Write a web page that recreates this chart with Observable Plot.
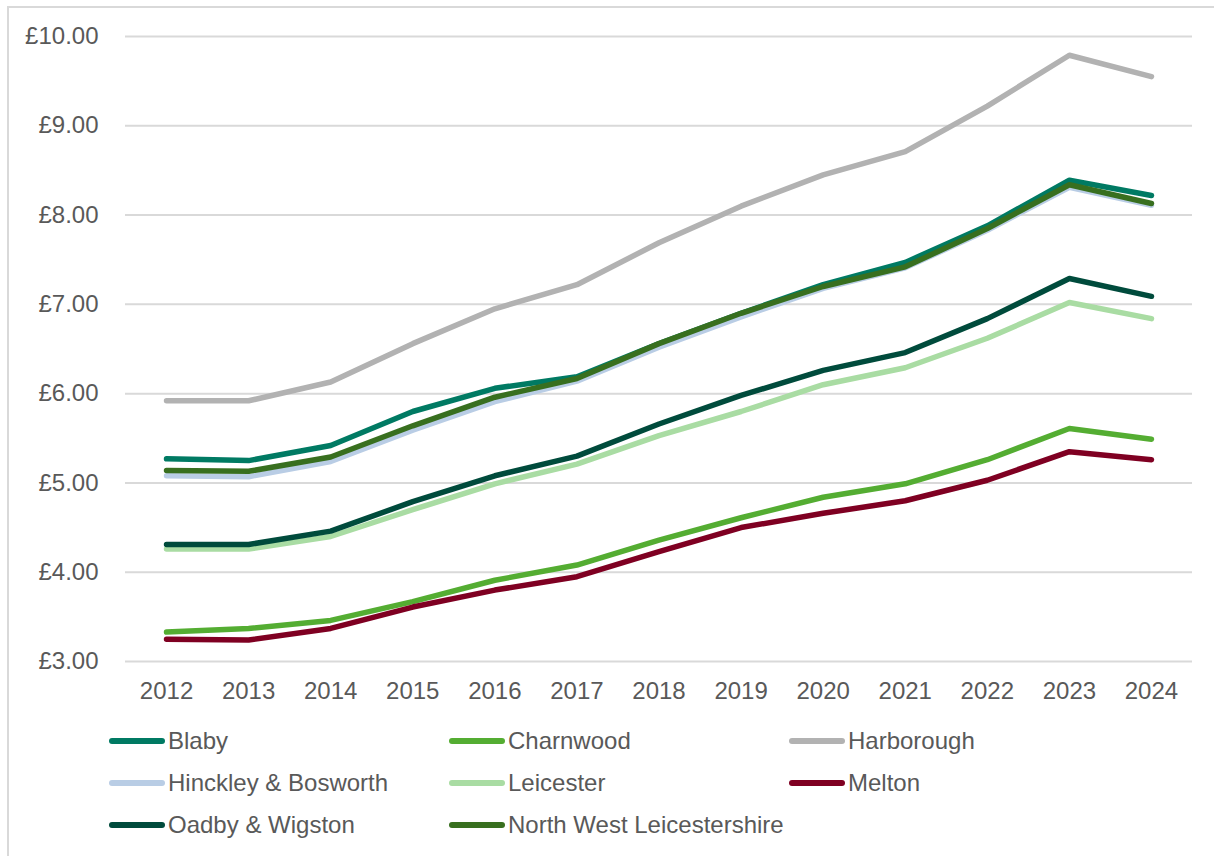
<!DOCTYPE html>
<html>
<head>
<meta charset="utf-8">
<script src="https://cdn.jsdelivr.net/npm/d3@7"></script>
<script src="https://cdn.jsdelivr.net/npm/@observablehq/plot@0.6"></script>
<style>
  html, body { margin: 0; padding: 0; background: #fff; }
  #wrap { position: relative; width: 1214px; height: 856px; overflow: hidden; font-family: "Liberation Sans", Arial, sans-serif; }
  #frame { position: absolute; left: 7px; top: 6px; width: 1300px; height: 900px; border-left: 2px solid #d9d9d9; border-top: 2px solid #d9d9d9; }
  #chart { position: absolute; left: 0; top: 0; }
  .leg { position: absolute; display: flex; align-items: center; font-size: 24px; color: #595959; white-space: nowrap; }
  .sw { width: 56px; height: 6px; border-radius: 3px; margin-right: 3px; }
</style>
</head>
<body>
<div id="wrap">
  <div id="frame"></div>
  <div id="chart"></div>
  <div id="legend"></div>
</div>
<script>
const years = [2012, 2013, 2014, 2015, 2016, 2017, 2018, 2019, 2020, 2021, 2022, 2023, 2024];
const seriesNames = ["Blaby", "Charnwood", "Harborough", "Hinckley & Bosworth", "Leicester", "Melton", "Oadby & Wigston", "North West Leicestershire"];
const seriesColors = ["#007a63", "#54ad32", "#b2b2b2", "#b9cde5", "#a9dca3", "#7f0022", "#004b3c", "#386f1f"];
const blaby      = [5.27, 5.25, 5.42, 5.80, 6.06, 6.19, 6.56, 6.90, 7.22, 7.47, 7.88, 8.39, 8.22];
const charnwood  = [3.33, 3.37, 3.46, 3.67, 3.91, 4.08, 4.36, 4.61, 4.84, 4.99, 5.26, 5.61, 5.49];
const harborough = [5.92, 5.92, 6.13, 6.56, 6.95, 7.22, 7.69, 8.10, 8.45, 8.71, 9.22, 9.79, 9.55];
const hinckley   = [5.08, 5.07, 5.24, 5.59, 5.91, 6.14, 6.52, 6.86, 7.18, 7.41, 7.83, 8.31, 8.11];
const leicester  = [4.26, 4.26, 4.40, 4.70, 4.99, 5.21, 5.53, 5.80, 6.10, 6.29, 6.62, 7.02, 6.84];
const melton     = [3.25, 3.24, 3.37, 3.61, 3.80, 3.95, 4.23, 4.50, 4.66, 4.80, 5.03, 5.35, 5.26];
const oadby      = [4.31, 4.31, 4.46, 4.79, 5.08, 5.30, 5.66, 5.98, 6.26, 6.46, 6.84, 7.29, 7.09];
const nwl        = [5.14, 5.13, 5.29, 5.64, 5.96, 6.17, 6.56, 6.90, 7.20, 7.42, 7.85, 8.34, 8.13];
const yTicks = [3, 4, 5, 6, 7, 8, 9, 10];

const seriesValues = [blaby, charnwood, harborough, hinckley, leicester, melton, oadby, nwl];
const rows = [];
seriesNames.forEach((name, i) => {
  years.forEach((yr, j) => rows.push({ name, year: yr, value: seriesValues[i][j] }));
});

const chart = Plot.plot({
  width: 1214,
  height: 720,
  marginTop: 36,
  marginBottom: 59,
  marginLeft: 125,
  marginRight: 22,
  style: { fontFamily: "Liberation Sans, Arial, sans-serif", fontSize: "24px", color: "#595959", background: "transparent" },
  x: { domain: [2011.5, 2024.5], ticks: years, tickFormat: d => String(d), tickSize: 0, tickPadding: 20, label: null },
  y: { domain: [3, 10], ticks: yTicks, tickFormat: d => "£" + d.toFixed(2), tickSize: 0, tickPadding: 27, label: null },
  color: { domain: seriesNames, range: seriesColors },
  marks: [
    Plot.ruleY(yTicks, { stroke: "#d9d9d9", strokeWidth: 2 }),
    Plot.line(rows, { x: "year", y: "value", z: "name", stroke: "name", strokeWidth: 5.5, strokeLinecap: "round", strokeLinejoin: "round" })
  ]
});
document.getElementById("chart").appendChild(chart);

const legend = document.getElementById("legend");
const colX = [109, 449, 789];
const rowY = [741, 783, 825];
seriesNames.forEach((name, i) => {
  const c = i % 3, r = Math.floor(i / 3);
  const el = document.createElement("div");
  el.className = "leg";
  el.style.left = colX[c] + "px";
  el.style.top = (rowY[r] - 14) + "px";
  el.style.height = "28px";
  el.innerHTML = `<div class="sw" style="background:${seriesColors[i]}"></div><span>${name.replace("&", "&amp;")}</span>`;
  legend.appendChild(el);
});
</script>
</body>
</html>
